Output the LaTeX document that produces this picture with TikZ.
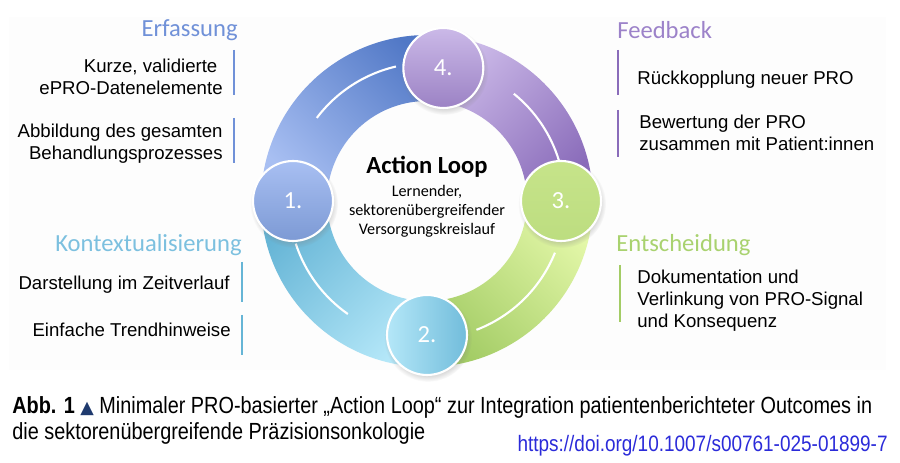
\documentclass[tikz,border=0pt]{standalone}
\usepackage{fontspec}
\setmainfont{Liberation Sans}
\newfontfamily\headfont{Carlito}
\newfontfamily\capfont[FakeStretch=0.85]{Liberation Sans}
\newfontfamily\symfont{DejaVu Sans}
\usetikzlibrary{positioning,shadows,calc}

\definecolor{erfBlue}{HTML}{7091D8}
\definecolor{konCyan}{HTML}{7CC0DF}
\definecolor{feePurple}{HTML}{9C82C9}
\definecolor{entGreen}{HTML}{A9D26F}
\definecolor{segBlueL}{HTML}{A8BFF2}
\definecolor{segBlueD}{HTML}{5178C6}
\definecolor{segPurL}{HTML}{CBB9E8}
\definecolor{segPurD}{HTML}{8A6CBA}
\definecolor{segGrnL}{HTML}{E3F7A8}
\definecolor{segGrnD}{HTML}{A3CC65}
\definecolor{segCyaL}{HTML}{B4E7F8}
\definecolor{segCyaD}{HTML}{66B5D6}
\definecolor{capNavy}{HTML}{1F3A6E}
\definecolor{doiBlue}{HTML}{2B2BD9}
\definecolor{panelGray}{HTML}{FDFDFD}

\begin{document}
\begin{tikzpicture}[x=0.02cm, y=0.02cm,
    stage/.style={circle, draw=white, line width=1.2pt, minimum size=1.6cm, inner sep=0pt,
        text=white, font=\headfont\fontsize{14}{14}\selectfont,
        circular drop shadow={shadow xshift=0.5pt, shadow yshift=-1.5pt, opacity=0.3}},
    heading/.style={font=\headfont\fontsize{14}{16}\selectfont, inner sep=0pt},
    item/.style={font=\fontsize{10.6}{12.6}\selectfont, inner sep=0pt, text=black},
    bar/.style={line width=1.4pt},
    hilite/.style={white, line width=1.2pt}
]
\useasboundingbox (0,0) rectangle (900,463);
\fill[panelGray] (9,93) rectangle (886,446);

\coordinate (ctr) at (427,262);

% ring segments
\foreach \a/\b/\lc/\dc/\sa in {180/83/segBlueL/segBlueD/-45, 83/0/segPurL/segPurD/-135,
    0/-90/segGrnL/segGrnD/135, 270/180/segCyaL/segCyaD/45} {
  \shade[top color=\dc, bottom color=\lc, shading angle=\sa]
    ($(ctr)+(\a:166)$) arc[start angle=\a, end angle=\b, radius=166]
    -- ($(ctr)+(\b:100)$) arc[start angle=\b, end angle=\a, radius=100] -- cycle;
}
\foreach \a/\b in {103/143, 17/51, -69/-22, 198/235}
  \draw[hilite] ($(ctr)+(\a:138)$) arc[start angle=\a, end angle=\b, radius=138];

\node[stage, left color=segCyaL, right color=segCyaD!85!segCyaL] (st2) at ($(ctr)+(270:134)$) {2.};
\node[stage, top color=segBlueL, bottom color=segBlueD!75!white] (st1) at ($(ctr)+(180:134)$) {1.};
\node[stage, top color=segGrnD!45!segGrnL, bottom color=segGrnD!60!segGrnL] (st3) at ($(ctr)+(0:134)$) {3.};
\node[stage, top color=segPurL, bottom color=segPurD!85!white] (st4) at ($(ctr)+(83:134)$) {4.};

% center
\node[font=\headfont\bfseries\fontsize{14}{16}\selectfont] (title) at (427,296) {Action Loop};
\node[align=center, font=\headfont\fontsize{9.2}{10.8}\selectfont] (sub) at (427,252)
  {Lernender,\\sektorenübergreifender\\Versorgungskreislauf};

% left side
\node[heading, text=erfBlue, anchor=east] (erf) at (238,433) {Erfassung};
\node[item, align=right, anchor=east] (erf1) at (223,386) {Kurze, validierte\hspace*{3pt}\\ePRO-Datenelemente};
\node[item, align=right, anchor=east] (erf2) at (223,319) {Abbildung des gesamten\\Behandlungsprozesses};
\draw[bar, erfBlue] (234,413) -- (234,368);
\draw[bar, erfBlue] (234,345) -- (234,300);

\node[heading, text=konCyan, anchor=east] (kon) at (242,218) {Kontextualisierung};
\node[item, anchor=east] (kon1) at (230,178) {Darstellung im Zeitverlauf};
\node[item, anchor=east] (kon2) at (231,133) {Einfache Trendhinweise};
\draw[bar, segCyaD] (242,201) -- (242,161);
\draw[bar, segCyaD] (242,148) -- (242,108);

% right side
\node[heading, text=feePurple, anchor=west] (fee) at (617,433) {Feedback};
\node[item, anchor=west] (fee1) at (637,383) {Rückkopplung neuer PRO};
\node[item, align=left, anchor=west] (fee2) at (639,330) {Bewertung der PRO\\zusammen mit Patient:innen};
\draw[bar, segPurD] (618,413) -- (618,368);
\draw[bar, segPurD] (618,353) -- (618,306);

\node[heading, text=entGreen, anchor=west] (ent) at (616,218) {Entscheidung};
\node[item, align=left, anchor=west] (ent1) at (637,162) {Dokumentation und\\Verlinkung von PRO-Signal\\und Konsequenz};
\draw[bar, segGrnD] (620,198) -- (620,141);

% caption
\node[anchor=west, align=left, inner sep=0pt, font=\capfont\fontsize{13.3}{14.8}\selectfont] (cap) at (12,43)
  {\textbf{Abb. 1} {\symfont\color{capNavy}\fontsize{10}{10}\selectfont ▲} Minimaler PRO-basierter „Action Loop“ zur Integration patientenberichteter Outcomes in\\die sektorenübergreifende Präzisionsonkologie};
\node[anchor=east, inner sep=0pt, text=doiBlue, font=\capfont\fontsize{12.7}{14}\selectfont] (doi) at (888,17)
  {https://doi.org/10.1007/s00761-025-01899-7};
\end{tikzpicture}
\end{document}
